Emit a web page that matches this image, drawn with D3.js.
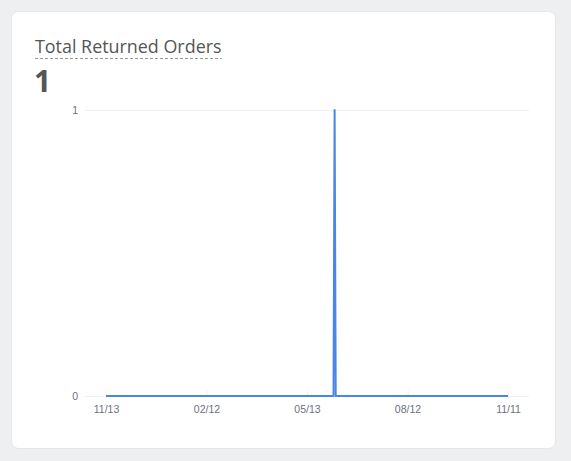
<!DOCTYPE html>
<html><head><meta charset="utf-8">
<script src="https://cdn.jsdelivr.net/npm/d3@7/dist/d3.min.js"></script>
<style>
html,body{margin:0;padding:0;background:#eeeff1;}
svg{display:block;}
</style></head>
<body>
<svg id="chart" width="571" height="461"></svg>
<script>
const title = "Total Returned Orders";
const totalValue = "1";
// sparse daily series: every other day is 0
const dates = ["2023-11-13", "2024-06-06", "2024-06-07", "2024-06-08", "2024-11-11"];
const values = [0, 0, 1, 0, 0];
const xTickDates = ["2023-11-13", "2024-02-12", "2024-05-13", "2024-08-12", "2024-11-11"];
const xTickLabels = ["11/13", "02/12", "05/13", "08/12", "11/11"];
const yTicks = [0, 1];

const parse = d3.timeParse("%Y-%m-%d");
const data = dates.map((d, i) => ({date: parse(d), value: values[i]}));

const svg = d3.select("#chart");
svg.append("rect").attr("x", 11.5).attr("y", 11.5).attr("width", 544).attr("height", 437)
  .attr("rx", 7).attr("fill", "#fff").attr("stroke", "#e6e7ea").attr("stroke-width", 1);

const t = svg.append("text").attr("x", 35).attr("y", 53)
  .attr("font-family", "Open Sans").attr("font-size", 17.9).attr("fill", "#555").text(title);
const tw = t.node().getComputedTextLength();
svg.append("line").attr("x1", 35).attr("x2", 35 + tw).attr("y1", 58.5).attr("y2", 58.5)
  .attr("stroke", "#999").attr("stroke-dasharray", "3,2").attr("stroke-width", 1);

svg.append("text").attr("x", 34).attr("y", 92)
  .attr("font-family", "Open Sans").attr("font-weight", 700).attr("font-size", 30)
  .attr("fill", "#555").text(totalValue);

const x = d3.scaleTime().domain([parse(xTickDates[0]), parse(xTickDates[4])]).range([106, 508]);
const y = d3.scaleLinear().domain([0, 1]).range([396, 110]);

// gridlines
svg.append("g").selectAll("line").data(yTicks).join("line")
  .attr("x1", 85).attr("x2", 529).attr("y1", d => y(d) + 0.5).attr("y2", d => y(d) + 0.5)
  .attr("stroke", "#f0f0f2").attr("stroke-width", 1);

// x axis
const xAxis = d3.axisBottom(x).tickValues(xTickDates.map(parse))
  .tickFormat((d, i) => xTickLabels[i]).tickSize(0).tickPadding(10);
const gx = svg.append("g").attr("transform", "translate(0,396)").call(xAxis);
gx.select(".domain").remove();
gx.selectAll("text").attr("font-family", "Liberation Sans, Arial").attr("font-size", 10.5).attr("fill", "#6b7280");
gx.selectAll(".tick").append("line").attr("y1", -6).attr("y2", 0).attr("stroke", "#f0f0f2");

// y axis
const yAxis = d3.axisLeft(y).tickValues(yTicks).tickFormat(d3.format("d")).tickSize(0).tickPadding(0);
const gy = svg.append("g").attr("transform", "translate(78,0)").call(yAxis);
gy.select(".domain").remove();
gy.selectAll("text").attr("font-family", "Liberation Sans, Arial").attr("font-size", 10.5).attr("fill", "#6b7280");

// line
const line = d3.line().x(d => x(d.date)).y(d => y(d.value));
svg.append("path").datum(data).attr("d", line)
  .attr("fill", "none").attr("stroke", "#4a86e8").attr("stroke-width", 2).attr("stroke-linejoin", "round");
</script>
</body></html>
